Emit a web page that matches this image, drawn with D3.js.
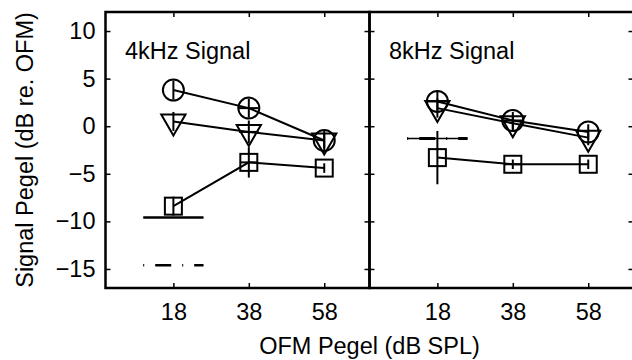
<!DOCTYPE html>
<html>
<head>
<meta charset="utf-8">
<script src="https://cdn.jsdelivr.net/npm/d3@7"></script>
<style>
  body { margin: 0; background: #fff; }
  svg text { font-family: "Liberation Sans", Arial, Helvetica, sans-serif; font-size: 23.5px; fill: #000; }
</style>
</head>
<body>
<div id="chart"></div>
<script>
// axis values
const xTicks = [18, 38, 58];
const yTicks = [10, 5, 0, -5, -10, -15];
const panelTitles = ['4kHz Signal', '8kHz Signal'];

// 4 kHz signal panel
const circ4 = [3.8, 1.9, -1.5];
const circ4Err = [1.0, 1.0, 0.8];
const circ4XErr = [0, 2.6, 0];
const tri4 = [0.5, -0.6, -1.5];
const tri4Err = [1.0, 1.2, 1.0];
const tri4XErr = [0, 2.6, 0];
const sq4 = [-8.4, -3.8, -4.4];
const sq4Err = [1.0, 1.6, 0.5];
const sq4XErr = [0, 2.2, 0];
const ref4Solid = -9.6;
const ref4DashDot = -14.6;

// 8 kHz signal panel
const circ8 = [2.6, 0.6, -0.6];
const circ8Err = [1.0, 0.9, 0.8];
const circ8XErr = [2.6, 2.6, 0];
const tri8 = [1.9, 0.3, -1.2];
const tri8Err = [1.0, 0.8, 0.8];
const tri8XErr = [0, 0, 0];
const sq8 = [-3.3, -4.0, -4.0];
const sq8Err = [2.8, 0.5, 0.5];
const sq8XErr = [0, 2.2, 0];
const ref8DashDot = -1.3;

const refX = [10, 26];

const W = 632, H = 360;
const m = {left: 105.5, top: 12};
const pw = 264, ph = 276;

const svg = d3.select('#chart').append('svg')
	.attr('width', W).attr('height', H);

const x = d3.scaleLinear().domain([0, 70]).range([0, pw]);
const y = d3.scaleLinear().domain([-17, 12]).range([ph, 0]);

const fmt = d => d < 0 ? '\u2212' + Math.abs(d) : '' + d;

function drawPanel(i, title, series, refs) {
	const g = svg.append('g')
		.attr('transform', 'translate(' + (m.left + i * pw) + ',' + m.top + ')');

	// inner ticks on all four sides
	const bottom = g.append('g').attr('transform', 'translate(0,' + ph + ')')
		.call(d3.axisBottom(x).tickValues(xTicks).tickSize(-5).tickPadding(15).tickFormat(d => d));
	const top = g.append('g')
		.call(d3.axisTop(x).tickValues(xTicks).tickSize(-5).tickFormat(''));
	const left = g.append('g')
		.call(d3.axisLeft(y).tickValues(yTicks).tickSize(-5).tickPadding(10).tickFormat(i == 0 ? fmt : ''));
	const right = g.append('g').attr('transform', 'translate(' + pw + ',0)')
		.call(d3.axisRight(y).tickValues(yTicks).tickSize(-5).tickFormat(''));
	[bottom, top, left, right].forEach(a => {
		a.select('.domain').remove();
		a.selectAll('line').attr('stroke', '#000').attr('stroke-width', 1.5);
		a.selectAll('text').attr('font-size', null).attr('font-family', null);
	});

	// frame
	g.append('rect')
		.attr('x', 0).attr('y', 0).attr('width', pw).attr('height', ph)
		.attr('fill', 'none').attr('stroke', '#000').attr('stroke-width', 2.5);

	g.append('text')
		.attr('x', 19.5).attr('y', 47)
		.text(title);

	const line = d3.line().x((d, j) => x(xTicks[j])).y(d => y(d));

	series.forEach(s => {
		g.append('path')
			.attr('d', line(s.values))
			.attr('fill', 'none').attr('stroke', '#000').attr('stroke-width', 2);
	});

	series.forEach(s => {
		s.values.forEach((v, j) => {
			const cx = x(xTicks[j]), cy = y(v);
			g.append('line')
				.attr('x1', cx).attr('x2', cx)
				.attr('y1', y(v - s.err[j])).attr('y2', y(v + s.err[j]))
				.attr('stroke', '#000').attr('stroke-width', 2);
			if (s.xerr[j] > 0) {
				g.append('line')
					.attr('x1', x(xTicks[j] - s.xerr[j])).attr('x2', x(xTicks[j] + s.xerr[j]))
					.attr('y1', cy).attr('y2', cy)
					.attr('stroke', '#000').attr('stroke-width', 2);
			}
			let mk;
			if (s.shape == 'circle') {
				mk = g.append('circle').attr('cx', cx).attr('cy', cy).attr('r', 10.5);
			} else if (s.shape == 'square') {
				mk = g.append('rect').attr('x', cx - 8.5).attr('y', cy - 8.5)
					.attr('width', 17).attr('height', 17);
			} else {
				const r = 14;
				mk = g.append('path')
					.attr('d', 'M' + (cx - 0.866 * r) + ',' + (cy - r / 2) +
						'L' + (cx + 0.866 * r) + ',' + (cy - r / 2) +
						'L' + cx + ',' + (cy + r) + 'Z');
			}
			mk.attr('fill', 'none').attr('stroke', '#000').attr('stroke-width', 2);
		});
	});

	refs.forEach(r => {
		const l = g.append('line')
			.attr('x1', x(refX[0])).attr('x2', x(refX[1]))
			.attr('y1', y(r.value)).attr('y2', y(r.value))
			.attr('stroke', '#000').attr('stroke-width', r.width);
		if (r.dash) l.attr('stroke-dasharray', '1,11,16,11');
	});

	return g;
}

drawPanel(0, panelTitles[0], [
	{shape: 'circle', values: circ4, err: circ4Err, xerr: circ4XErr},
	{shape: 'tri', values: tri4, err: tri4Err, xerr: tri4XErr},
	{shape: 'square', values: sq4, err: sq4Err, xerr: sq4XErr}
], [
	{value: ref4Solid, dash: false, width: 2.5},
	{value: ref4DashDot, dash: true, width: 2.5}
]);

drawPanel(1, panelTitles[1], [
	{shape: 'circle', values: circ8, err: circ8Err, xerr: circ8XErr},
	{shape: 'tri', values: tri8, err: tri8Err, xerr: tri8XErr},
	{shape: 'square', values: sq8, err: sq8Err, xerr: sq8XErr}
], [
	{value: ref8DashDot, dash: false, width: 1.5},
	{value: ref8DashDot, dash: true, width: 3}
]);

// axis labels
svg.append('text')
	.attr('x', m.left + pw).attr('y', 354)
	.attr('text-anchor', 'middle')
	.text('OFM Pegel (dB SPL)');

svg.append('text')
	.attr('transform', 'translate(33,' + (m.top + ph / 2) + ') rotate(-90)')
	.attr('text-anchor', 'middle')
	.text('Signal Pegel (dB re. OFM)');
</script>
</body>
</html>
